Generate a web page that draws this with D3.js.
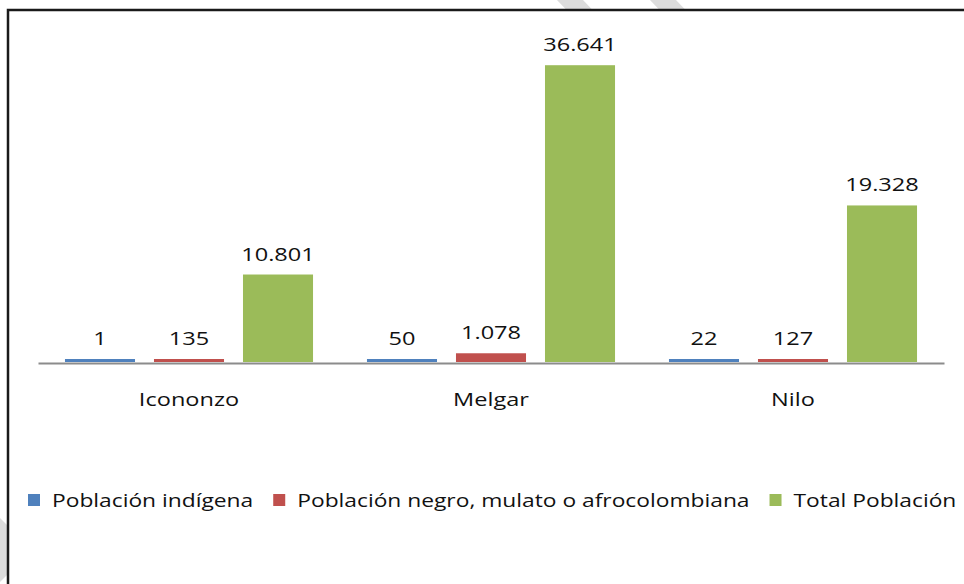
<!DOCTYPE html>
<html>
<head>
<meta charset="utf-8">
<script src="https://d3js.org/d3.v7.min.js"></script>
<style>
  html, body { margin: 0; padding: 0; background: #fff; }
  svg { display: block; font-family: "Open Sans", "Noto Sans", sans-serif; }
</style>
</head>
<body>
<div id="chart"></div>
<script>
// data
const municipios = ["Icononzo", "Melgar", "Nilo"];
const series = ["Población indígena", "Población negro, mulato o afrocolombiana", "Total Población"];
const indigena = [1, 50, 22];
const afro = [135, 1078, 127];
const total = [10801, 36641, 19328];
const colors = ["#4f81bd", "#c0504d", "#9bbb59"];

const W = 964, H = 584;
const stretch = 1.24;   // source text is rendered wide
const svg = d3.select("#chart").append("svg")
    .attr("width", W)
    .attr("height", H);

// faint page watermark behind the chart box
const stripes = [
    [[557, 0], [583, 0], [623, 42], [597, 42]],
    [[650, 0], [676, 0], [716, 42], [690, 42]],
    [[0, 518], [32, 550], [0, 582]]
];
svg.selectAll("polygon.wm")
    .data(stripes)
    .join("polygon")
    .attr("class", "wm")
    .attr("points", d => d.join(" "))
    .attr("fill", "#dcdcdc");

// chart frame
svg.append("rect")
    .attr("x", 8).attr("y", 10)
    .attr("width", 1000).attr("height", 1000)
    .attr("fill", "#fff")
    .attr("stroke", "#1a1a1a")
    .attr("stroke-width", 2.5);

const rows = municipios.map((m, i) => ({
    name: m,
    values: [indigena[i], afro[i], total[i]]
}));

const x0 = d3.scaleBand()
    .domain(municipios)
    .range([38, 944])
    .padding(0);

const x1 = d3.scaleBand()
    .domain(d3.range(series.length))
    .range([0, x0.bandwidth()])
    .paddingInner(0.213)
    .paddingOuter(0.303);

const y = d3.scaleLinear()
    .domain([0, 40000])
    .range([363, 39]);

const fmt = d3.formatLocale({decimal: ",", thousands: ".", grouping: [3], currency: ["$", ""]}).format(",d");

// category axis
const xAxis = svg.append("g")
    .attr("transform", `translate(0,${y(0)})`)
    .call(d3.axisBottom(x0).tickSize(0).tickPadding(30));
xAxis.select(".domain")
    .attr("stroke", "#8c8c8c")
    .attr("stroke-width", 2);
xAxis.selectAll(".tick text")
    .attr("font-size", 19)
    .attr("font-family", "Open Sans, sans-serif")
    .attr("fill", "#111")
    .attr("transform", `scale(${stretch},1)`);

// bars
const groups = svg.selectAll("g.grp")
    .data(rows)
    .join("g")
    .attr("class", "grp")
    .attr("transform", d => `translate(${x0(d.name)},0)`);

const minH = 3;
groups.selectAll("rect")
    .data(d => d.values.map((v, i) => ({v, i})))
    .join("rect")
    .attr("x", d => x1(d.i))
    .attr("width", x1.bandwidth())
    .attr("y", d => Math.min(y(d.v), y(0) - minH) - 1)
    .attr("height", d => Math.max(y(0) - y(d.v), minH))
    .attr("fill", d => colors[d.i]);

groups.selectAll("text")
    .data(d => d.values.map((v, i) => ({v, i})))
    .join("text")
    .attr("transform", d => `translate(${x1(d.i) + x1.bandwidth() / 2},${Math.min(y(d.v), y(0) - minH) - 15}) scale(${stretch},1)`)
    .attr("text-anchor", "middle")
    .attr("font-size", 19)
    .attr("fill", "#111")
    .text(d => fmt(d.v));

// legend
const legend = svg.append("g")
    .attr("transform", "translate(28,500)");
const legStretch = 1.2;
let lx = 0;
series.forEach((s, i) => {
    const g = legend.append("g").attr("transform", `translate(${lx},0)`);
    g.append("rect")
        .attr("x", 0).attr("y", -6)
        .attr("width", 12).attr("height", 12)
        .attr("fill", colors[i]);
    const t = g.append("text")
        .attr("transform", `translate(24,7) scale(${legStretch},1)`)
        .attr("font-size", 19)
        .attr("fill", "#111")
        .text(s);
    lx += 24 + t.node().getComputedTextLength() * legStretch + 20;
});
</script>
</body>
</html>
